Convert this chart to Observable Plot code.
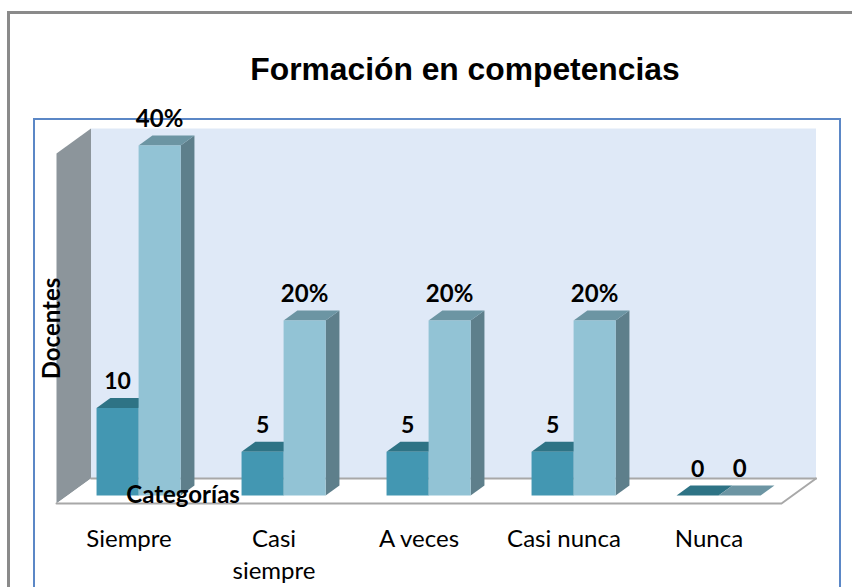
<!DOCTYPE html>
<html lang="es">
<head>
<meta charset="utf-8">
<script src="https://cdn.jsdelivr.net/npm/d3@7"></script>
<script src="https://cdn.jsdelivr.net/npm/@observablehq/plot@0.6"></script>
<style>
html,body{margin:0;padding:0;background:#fff;width:852px;height:587px;overflow:hidden}
#outer{position:absolute;left:7px;top:11px;width:900px;height:700px;border:3px solid #8a8a8a;box-sizing:border-box}
#inner{position:absolute;left:33px;top:118px;width:808px;height:600px;border:2px solid #5b87c6;box-sizing:border-box}
#title{position:absolute;left:0;top:51px;width:930px;text-align:center;font:bold 31.8px "Liberation Sans",Arial,sans-serif;color:#000;margin:0}
#chart{position:absolute;left:0;top:0}
#chart svg{display:block;overflow:visible}
</style>
</head>
<body>
<div id="outer"></div>
<div id="inner"></div>
<h1 id="title">Formación en competencias</h1>
<div id="chart"></div>
<script>
const categories = ["Siempre", "Casi\nsiempre", "A veces", "Casi nunca", "Nunca"];
const docentes = [10, 5, 5, 5, 0];
const porcentaje = [40, 20, 20, 20, 0];
const porcentajeLabels = ["40%", "20%", "20%", "20%", "0"];
const yTitle = "Docentes";
const xTitle = "Categorías";

// Oblique projection of the 3-D box: depth d runs 0 (front) to 1 (back)
const depthX = 0.238, depthY = 2.857;
const barDepthStart = 0.32, barDepthEnd = 0.72;
const darkStart = 0.2, barSpan = 0.29;
const top3d = 40;
const P = (x, v, d) => ({x: x + d * depthX, y: v + d * depthY});

let faceId = 0;
const face = pts => { const id = faceId++; return pts.map(p => ({...p, id})); };
const polys = (list, fill) => Plot.line(list.flat(), {x: "x", y: "y", z: "id", fill, stroke: "none"});

const n = categories.length;
const wall = [face([P(0,0,1), P(n,0,1), P(n,top3d,1), P(0,top3d,1)])];
const leftWall = [face([P(0,0,0), P(0,0,1), P(0,top3d,1), P(0,top3d,0)])];
const floor = [face([P(0,0,0), P(n,0,0), P(n,0,1), P(0,0,1)])];

const box = (x0, x1, v) => ({
  front: face([P(x0,0,barDepthStart), P(x1,0,barDepthStart), P(x1,v,barDepthStart), P(x0,v,barDepthStart)]),
  top: face([P(x0,v,barDepthStart), P(x1,v,barDepthStart), P(x1,v,barDepthEnd), P(x0,v,barDepthEnd)]),
  side: face([P(x1,0,barDepthStart), P(x1,0,barDepthEnd), P(x1,v,barDepthEnd), P(x1,v,barDepthStart)])
});
const darkBars = docentes.map((v, i) => box(i + darkStart, i + darkStart + barSpan, v));
const lightBars = porcentaje.map((v, i) => box(i + darkStart + barSpan, i + darkStart + 2 * barSpan, v));

const labelFont = "Lato, 'Open Sans', sans-serif";
const darkLabels = docentes.map((v, i) => ({...P(i + darkStart + barSpan / 2, v, barDepthStart), t: String(v)}));
const lightLabels = porcentaje.map((v, i) => ({...P(i + darkStart + 1.5 * barSpan, v, barDepthStart), t: porcentajeLabels[i]}));

const plot = Plot.plot({
  width: 852,
  height: 587,
  margin: 0,
  style: {background: "transparent", overflow: "visible"},
  x: {type: "linear", domain: [0, n], range: [56, 781], axis: null},
  y: {type: "linear", domain: [0, top3d], range: [503, 153], axis: null},
  marks: [
    polys(wall, "#dfe9f7"),
    polys(leftWall, "#8c959b"),
    polys(floor, "#ffffff"),
    Plot.line([P(0,0,1), P(n,0,1)], {x: "x", y: "y", stroke: "#a8a8a8", strokeWidth: 2}),
    Plot.line([P(0,0,0), P(n,0,0), P(n,0,1)], {x: "x", y: "y", stroke: "#a8a8a8", strokeWidth: 2}),
    polys(darkBars.map(b => b.side), "#2e6f80"),
    polys(darkBars.map(b => b.top), "#2e7385"),
    polys(darkBars.map(b => b.front), "#4397b2"),
    polys(lightBars.map(b => b.side), "#5e7f8b"),
    polys(lightBars.map(b => b.top), "#6c95a3"),
    polys(lightBars.map(b => b.front), "#92c3d5"),
    Plot.text(darkLabels, {x: "x", y: "y", text: "t", dy: -26, fontFamily: labelFont, fontWeight: 700, fontSize: 23, fill: "#000"}),
    Plot.text(lightLabels, {x: "x", y: "y", text: "t", dy: -26, fontFamily: labelFont, fontWeight: 700, fontSize: 24, fill: "#000"}),
    Plot.text(categories.map((c, i) => ({...P(i + 0.5, 0, 0), t: c})), {
      x: "x", y: "y", text: "t", dy: 21, lineAnchor: "top", lineHeight: 1.33,
      fontFamily: labelFont, fontSize: 24, fill: "#000"
    }),
    Plot.text([xTitle], {x: [0.873], y: [0], text: d => d, dy: -8, fontFamily: labelFont, fontWeight: 700, fontSize: 24, fill: "#000"}),
    Plot.text([yTitle], {x: [0], y: [top3d * 0.5], text: d => d, dx: -4, rotate: -90, fontFamily: labelFont, fontWeight: 700, fontSize: 24, fill: "#000"})
  ]
});
document.getElementById("chart").appendChild(plot);
</script>
</body>
</html>
